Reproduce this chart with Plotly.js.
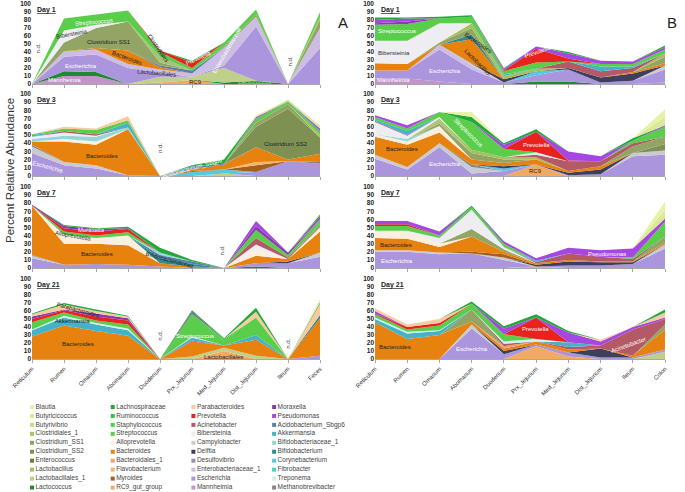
<!DOCTYPE html>
<html><head><meta charset="utf-8">
<script src="https://cdn.plot.ly/plotly-3.0.1.min.js"></script>
<style>html,body{margin:0;padding:0;background:#fff}#chart{width:685px;height:492px}</style>
</head><body><div id="chart"></div>
<script>
// ---------- categories & ticks ----------
const sitesA = ["Reticulum","Rumen","Omasum","Abomasum","Duodenum","Prx_Jejunum","Med_Jejunum","Dist_Jejunum","Ileum","Feces"];
const sitesB = ["Reticulum","Rumen","Omasum","Abomasum","Duodenum","Prx_Jejunum","Med_Jejunum","Dist_Jejunum","Ileum","Colon"];
const yTicks = [0,10,20,30,40,50,60,70,80,90,100];
const dayNames = ["Day 1","Day 1","Day 3","Day 3","Day 7","Day 7","Day 21","Day 21"];

// ---------- legend taxa (column-major order) & colours ----------
const legendTaxa = ["Blautia","Butyricicoccus","Butyrivibrio","Clostridiales_1","Clostridium_SS1","Clostridium_SS2","Enterococcus","Lactobacillus","Lactobacillales_1","Lactococcus",
 "Lachnospiraceae","Ruminococcus","Staphylococcus","Streptococcus","Alloprevotella","Bacteroides","Bacteroidales_1","Flavobacterium","Myroides","RC9_gut_group",
 "Parabacteroides","Prevotella","Acinetobacter","Bibersteinia","Campylobacter","Delftia","Desulfovibrio","Enterobacteriaceae_1","Escherichia","Mannheimia",
 "Moraxella","Pseudomonas","Acidobacterium_Sbgp6","Akkermansia","Bifidobacteriaceae_1","Bifidobacterium","Corynebacterium","Fibrobacter","Treponema","Methanobrevibacter"];
const taxaColors = ["#e8f2a6","#d8ea98","#c6dc8c","#a9c276","#93a564","#7f9152","#6a7c44","#a6c05e","#bed08a","#1f8a30",
 "#23a83a","#35c045","#46d448","#5acd4a","#fcefdf","#e8820f","#f2a070","#f9b46e","#a4601c","#f2aa62",
 "#f9c9a2","#e8231d","#b35a66","#ededf2","#cacad2","#3e3f5e","#9a90b2","#cbbde3","#ab95dc","#c493cb",
 "#8a3bb0","#a547e0","#5683aa","#45b2c8","#93d8d6","#2f8a92","#55c9e2","#43d0d6","#d2f0f0","#858585"];

// bottom-to-top stacking order
const stackOrder = ["RC9_gut_group","Mannheimia","Lactococcus","Lactobacillales_1","Escherichia","Enterobacteriaceae_1","Campylobacter","Methanobrevibacter","Corynebacterium","Delftia","Desulfovibrio","Myroides","Flavobacterium","Bacteroides","Bacteroidales_1","Alloprevotella","Bifidobacterium","Acidobacterium_Sbgp6","Bifidobacteriaceae_1","Clostridium_SS2","Clostridium_SS1","Clostridiales_1","Lactobacillus","Enterococcus","Bibersteinia","Acinetobacter","Akkermansia","Treponema","Fibrobacter","Streptococcus","Staphylococcus","Ruminococcus","Prevotella","Moraxella","Pseudomonas","Parabacteroides","Lachnospiraceae","Butyrivibrio","Butyricicoccus","Blautia"];

// ---------- panel data (percent, per site) ----------
const A_day1 = {
 RC9_gut_group:[0,0,0,0,2,5,0,0,0,0], Mannheimia:[0,10,10,0,0,0,0,0,0,0], Lactococcus:[0,6,5,0,0,0,2,4,0,0],
 Lactobacillales_1:[0,0,0,0,7,4,18,0,0,0], Escherichia:[0,18,22,20,5,0,3,68,0,45], Enterobacteriaceae_1:[0,7,6,5,4,4,22,12,0,25],
 Bacteroides:[0,0,2,17,3,0,0,0,0,0], Acidobacterium_Sbgp6:[0,0,0,0,2,4,0,0,0,0], Clostridium_SS1:[0,11,25,36,4,0,2,3,0,10],
 Clostridiales_1:[0,0,0,0,7,0,0,0,0,0], Lactobacillus:[0,0,0,0,0,0,0,0,0,4], Bibersteinia:[0,15,4,0,0,0,0,0,0,0],
 Streptococcus:[0,15,13,14,6,3,5,6,0,6], Prevotella:[0,0,0,0,2,7,0,0,0,0], Lachnospiraceae:[0,0,0,0,0,2,0,0,0,0]
};
const B_day1 = {
 Mannheimia:[7,7,3,0,0,0,0,0,0,2], Lactococcus:[0,0,0,0,0,3,3,0,0,0], Escherichia:[10,10,40,18,2,8,15,2,4,16],
 Enterobacteriaceae_1:[0,0,6,5,0,0,0,0,0,0], Campylobacter:[0,0,0,3,0,0,0,0,0,5], Corynebacterium:[0,0,0,0,0,5,0,0,0,0],
 Delftia:[0,0,0,0,4,0,2,6,9,0], Bacteroides:[9,8,0,30,0,0,0,0,2,3], Bifidobacterium:[0,0,0,6,0,0,0,0,0,0],
 Clostridium_SS1:[0,0,3,8,0,0,0,0,0,8], Lactobacillus:[0,0,0,6,4,3,0,0,0,4], Bibersteinia:[28,29,24,0,0,0,0,0,0,0],
 Acinetobacter:[0,0,0,0,0,0,8,8,5,0], Akkermansia:[0,0,0,0,2,0,0,6,2,0], Streptococcus:[20,21,6,8,4,8,0,3,3,5],
 Prevotella:[0,0,0,0,1,17,4,0,0,0], Moraxella:[2,3,0,0,0,0,0,0,0,0], Pseudomonas:[4,4,0,0,2,3,6,4,3,3],
 Lachnospiraceae:[3,1,2,2,1,0,2,0,0,2]
};
const A_day3 = {
 Escherichia:[28,13,9,1,0,0,0,5,18,15], Campylobacter:[8,4,4,0,0,0,0,0,0,0], Methanobrevibacter:[2,0,0,0,0,0,0,0,0,2],
 Myroides:[0,0,0,0,0,1,0,8,0,0], Flavobacterium:[0,0,0,0,0,0,0,4,0,0], Lactobacillales_1:[0,0,0,0,0,0,3,0,0,0],
 Bacteroides:[4,25,25,56,0,2,6,18,2,10], Alloprevotella:[0,3,4,0,0,0,0,0,0,0], Acidobacterium_Sbgp6:[0,0,0,0,0,4,1,0,0,0],
 Corynebacterium:[0,0,0,0,0,5,5,0,0,0], Bifidobacteriaceae_1:[3,4,6,2,0,0,0,0,0,0], Clostridium_SS2:[0,0,0,0,0,0,0,25,62,20],
 Clostridium_SS1:[0,0,0,0,0,0,0,5,6,0], Lactobacillus:[0,0,0,0,0,0,0,0,0,3], Bibersteinia:[3,4,1,0,0,0,0,0,0,0],
 Acinetobacter:[0,2,2,0,0,0,0,0,0,0], Akkermansia:[2,0,0,6,0,0,0,0,0,0], Streptococcus:[1,3,5,3,0,0,0,5,3,5],
 Pseudomonas:[0,0,0,0,0,0,0,2,0,3], Parabacteroides:[0,2,2,5,0,0,0,0,0,0], Lachnospiraceae:[0,0,0,0,0,1,5,0,0,0],
 Butyrivibrio:[0,0,0,0,0,0,0,0,2,0], Butyricicoccus:[0,0,0,0,0,0,0,0,0,4], Blautia:[0,0,0,0,0,0,0,2,0,0]
};
const B_day3 = {
 RC9_gut_group:[0,0,0,0,0,14,0,0,0,0], Escherichia:[21,8,35,3,6,0,1,2,24,26], Campylobacter:[5,3,5,8,0,0,0,0,4,5],
 Methanobrevibacter:[0,0,0,3,0,0,0,0,0,0], Corynebacterium:[0,0,0,0,3,0,0,0,0,0], Delftia:[0,0,0,0,3,0,3,6,0,0],
 Bacteroides:[22,27,13,6,4,6,2,4,0,0], Alloprevotella:[3,4,8,0,0,0,0,0,0,0], Bifidobacteriaceae_1:[0,3,0,0,0,0,0,0,0,0],
 Clostridium_SS2:[0,0,0,0,0,0,0,0,0,8], Clostridium_SS1:[0,0,3,8,4,0,0,0,8,9], Clostridiales_1:[0,0,4,0,0,0,0,0,0,0],
 Lactobacillus:[0,0,2,4,3,3,0,0,0,0], Bibersteinia:[15,4,2,0,0,0,0,0,0,0], Acinetobacter:[1,1,0,0,0,3,12,6,4,0],
 Akkermansia:[2,5,0,0,0,0,0,0,0,0], Treponema:[0,0,0,0,0,3,0,0,0,0], Streptococcus:[3,3,6,34,10,0,0,0,3,12],
 Prevotella:[0,0,0,0,0,25,1,0,0,0], Pseudomonas:[2,4,0,0,5,0,11,6,0,2], Lachnospiraceae:[0,0,0,6,2,3,0,0,3,0],
 Butyricicoccus:[0,0,0,0,0,0,0,0,0,10], Blautia:[0,0,0,6,0,0,0,0,0,9]
};
const A_day7 = {
 Lactococcus:[0,0,0,0,0,0,0,2,0,0], Escherichia:[12,4,5,4,2,0,0,4,6,14], Campylobacter:[3,0,0,0,0,0,0,0,0,5],
 Methanobrevibacter:[1,0,0,0,0,0,0,0,0,0], Delftia:[0,0,0,0,0,0,0,0,2,0], Bacteroides:[61,26,25,24,4,2,0,9,3,26],
 Alloprevotella:[0,10,7,12,0,0,0,8,0,5], Bifidobacterium:[0,0,0,0,6,3,0,0,0,0], Acidobacterium_Sbgp6:[0,0,0,0,4,3,0,0,0,0],
 Bifidobacteriaceae_1:[0,0,0,0,3,0,0,0,0,0], Clostridium_SS1:[0,0,0,0,0,0,0,0,0,4], Bibersteinia:[0,1,0,0,0,0,0,6,0,0],
 Acinetobacter:[0,0,0,0,0,0,0,8,2,0], Streptococcus:[0,4,3,4,0,0,0,10,3,6], Prevotella:[0,4,5,4,0,0,0,0,0,0],
 Moraxella:[1,3,3,1,0,0,0,5,3,0], Pseudomonas:[0,0,0,0,0,0,0,6,0,4], Lachnospiraceae:[0,1,1,2,6,2,0,0,0,2],
 Blautia:[0,0,0,0,0,0,0,0,0,2]
};
const B_day7 = {
 RC9_gut_group:[0,0,0,0,0,2,0,0,0,0], Escherichia:[20,20,17,18,10,0,3,3,5,24], Campylobacter:[2,2,2,0,3,0,0,0,0,5],
 Delftia:[0,0,0,0,0,2,5,4,2,0], Myroides:[0,0,0,2,4,0,0,0,0,0], Bacteroides:[15,14,7,19,3,2,2,1,1,2],
 Alloprevotella:[9,10,4,0,0,0,0,0,0,0], Clostridium_SS1:[0,0,0,9,3,0,0,0,0,8], Bibersteinia:[0,0,7,24,3,0,0,0,0,0],
 Acinetobacter:[0,0,0,0,0,1,8,6,3,0], Akkermansia:[0,0,0,0,0,2,0,0,0,0], Streptococcus:[6,6,3,3,4,0,0,0,2,18],
 Prevotella:[2,2,0,0,0,0,0,0,0,0], Pseudomonas:[4,4,5,0,3,3,7,8,11,4], Lachnospiraceae:[0,0,0,2,0,0,0,0,0,0],
 Butyricicoccus:[0,0,0,0,0,0,0,0,0,11], Blautia:[0,0,0,0,0,0,0,0,0,10]
};
const A_day21 = {
 RC9_gut_group:[0,0,0,0,0,0,10,0,0,0], Lactobacillales_1:[0,0,0,0,0,3,4,4,0,0], Escherichia:[0,0,0,0,0,0,0,0,0,4],
 Bacteroides:[28,42,35,29,0,19,3,20,0,47], Bifidobacterium:[0,0,0,0,0,0,0,0,0,4], Acinetobacter:[0,0,0,0,0,1,0,0,0,0],
 Akkermansia:[8,10,8,7,0,4,0,6,0,0], Treponema:[1,2,2,2,0,1,0,0,0,0], Streptococcus:[9,4,3,5,0,29,6,22,0,0],
 Ruminococcus:[0,0,0,0,0,0,2,0,0,0], Prevotella:[4,3,5,5,0,0,0,0,0,0], Moraxella:[3,1,4,3,0,2,0,0,0,0],
 Parabacteroides:[3,6,3,2,0,0,0,7,0,14], Lachnospiraceae:[1,2,2,1,0,2,1,5,0,2], Blautia:[0,0,0,0,0,0,0,0,0,4]
};
const B_day21 = {
 RC9_gut_group:[0,0,0,0,0,16,3,0,0,0], Lactobacillales_1:[0,0,0,0,0,0,0,0,0,9], Escherichia:[0,0,0,38,6,2,5,2,2,3],
 Campylobacter:[0,0,0,5,0,0,0,0,0,0], Delftia:[0,0,0,0,4,0,0,11,0,0], Bacteroides:[46,25,30,4,3,4,4,0,2,25],
 Bacteroidales_1:[0,0,0,0,3,0,0,0,0,0], Clostridium_SS1:[0,0,0,15,0,0,0,0,0,6], Acinetobacter:[0,0,0,0,3,0,3,4,33,7],
 Akkermansia:[4,7,5,0,0,0,6,0,0,0], Treponema:[2,2,1,0,3,3,0,0,0,0], Streptococcus:[4,3,6,7,9,0,0,0,0,0],
 Prevotella:[1,3,3,0,0,27,0,0,0,0], Pseudomonas:[3,0,0,0,7,0,12,5,3,2], Parabacteroides:[3,3,5,0,0,0,0,2,0,6],
 Lachnospiraceae:[0,0,0,3,3,4,2,0,0,4]
};

// in-area labels: [text, siteIndexPos, value, angle, colour]
const labelsA1 = [["Streptococcus",1.94,77,-5,"#fff"],["Bibersteinia",1.25,62,-10,"#333"],["Clostridium SS1",2.4,52,0,"#222"],
 ["Bacteroides",2.97,32,20,"#222"],["Escherichia",1.53,22,0,"#fff"],["Mannheimia",1.03,5,0,"#fff"],["Lactobacillales",3.9,14,5,"#222"],
 ["Clostridiales",3.94,45,55,"#222"],["RC9",5.1,3,0,"#222"],["Prevotella",5.2,32,-25,"#fff"],["Enterobacteriaceae",6.1,42,-60,"#fff"],
 ["Lactococcus",6.95,3,0,"#9fe09f"],["n.d.",0.2,45,-90,"#444"],["n.d.",8.06,28,-90,"#444"]];
const labelsB1 = [["Streptococcus",0.68,66,0,"#fff"],["Bibersteinia",0.6,39,0,"#333"],["Escherichia",2.17,16,0,"#fff"],
 ["Mannheimia",0.57,5,0,"#fff"],["Bacteroides",3.2,51,35,"#222"],["Lactobacillus",3.17,27,45,"#222"],["Prevotella",5.03,40,-20,"#fff"]];
const labelsA3 = [["Escherichia",0.5,11,15,"#fff"],["Bacteroides",2.2,24,0,"#222"],["n.d.",4.0,34,-90,"#444"],
 ["Acidobacterium_Sbgp6",5.0,10,-15,"#fff"],["Clostridium SS2",7.94,39,0,"#222"]];
const labelsB3 = [["Bacteroides",0.84,33,0,"#222"],["Escherichia",2.17,15,0,"#fff"],["Streptococcus",2.9,52,45,"#fff"],
 ["Prevotella",5.0,38,0,"#fff"],["RC9",4.97,6,0,"#222"]];
const labelsA7 = [["Moraxella",1.87,47,0,"#fff"],["Alloprevotella",1.31,40,10,"#333"],["Bacteroides",2.03,17,0,"#222"],
 ["Lactococcus",4.06,33,30,"#fff"],["Bifidobacteriaceae",4.3,10,15,"#222"],["n.d.",5.95,22,-90,"#444"]];
const labelsB7 = [["Bacteroides",0.65,29,0,"#222"],["Escherichia",0.68,9,0,"#fff"],["Pseudomonas",7.2,17,0,"#fff"]];
const labelsA21 = [["Parabacteroides",1.44,61,15,"#222"],["Akkermansia",1.28,47,0,"#222"],["Bacteroides",1.44,19,0,"#222"],
 ["n.d.",4.0,29,-90,"#444"],["Streptococcus",5.1,29,0,"#fff"],["Lactobacillales",5.97,3,0,"#222"],["n.d.",8.0,19,-90,"#444"]];
const labelsB21 = [["Bacteroides",0.62,15,0,"#222"],["Escherichia",3.01,12,0,"#fff"],["Prevotella",4.97,37,0,"#fff"],
 ["Acinetobacter",7.86,18,-20,"#fff"]];

// ---------- build ----------
const panels = [A_day1,B_day1,A_day3,B_day3,A_day7,B_day7,A_day21,B_day21];
const panelLabels = [labelsA1,labelsB1,labelsA3,labelsB3,labelsA7,labelsB7,labelsA21,labelsB21];
const W = 685, H = 492;
const colPx = [[32,320],[375,665]];
const rowPx = [[4,84],[94,176],[187,268],[279,359]];
const FONT = "Liberation Sans, Arial, sans-serif";
const colorOf = {}; legendTaxa.forEach((t,i)=>colorOf[t]=taxaColors[i]);

const traces = [];
const layout = {width:W,height:H,margin:{l:0,r:0,t:0,b:0},paper_bgcolor:"#fff",plot_bgcolor:"rgba(0,0,0,0)",
  showlegend:false,font:{family:FONT,color:"#333"},annotations:[]};

panels.forEach((pd,k)=>{
  const row = Math.floor(k/2), col = k%2;
  const xa = k===0?"x":"x"+(k+1), ya = k===0?"y":"y"+(k+1);
  const xk = k===0?"xaxis":"xaxis"+(k+1), yk = k===0?"yaxis":"yaxis"+(k+1);
  const sites = col===0?sitesA:sitesB;
  stackOrder.forEach(t=>{
    if(!pd[t]) return;
    traces.push({type:"scatter",x:sites,y:pd[t],xaxis:xa,yaxis:ya,stackgroup:"p"+k,mode:"lines",
      line:{width:0,color:colorOf[t]},fillcolor:colorOf[t],name:t,hoverinfo:"skip"});
  });
  layout[xk] = {domain:[colPx[col][0]/W,colPx[col][1]/W],anchor:ya,type:"category",range:[0,9],
    showgrid:false,zeroline:false,showline:true,linecolor:"#a8a8a8",linewidth:1,ticks:"outside",ticklen:3,tickcolor:"#a8a8a8",
    showticklabels:row===3,tickangle:-45,tickfont:{size:6,color:"#333",family:FONT},fixedrange:true};
  layout[yk] = {domain:[1-rowPx[row][1]/H,1-rowPx[row][0]/H],anchor:xa,range:[0,100],tickvals:yTicks,
    showgrid:false,zeroline:false,showline:false,ticks:"",tickfont:{size:6.5,color:"#222",family:FONT,weight:"bold"},fixedrange:true};
  layout.annotations.push({xref:xa+" domain",yref:ya+" domain",x:col===0?0.012:0.015,y:1.0,xanchor:"left",yanchor:"top",
    text:"<b><u>"+dayNames[k]+"</u></b>",showarrow:false,font:{size:7,color:"#222",family:FONT}});
  panelLabels[k].forEach(l=>{
    layout.annotations.push({xref:xa,yref:ya,x:l[1],y:l[2],text:l[0],textangle:l[3],showarrow:false,
      font:{size:6,color:l[4],family:FONT}});
  });
});

// custom compact legend (4 columns x 10 rows)
const legX = legendTaxa.map((t,i)=>32+Math.floor(i/10)*80.7);
const legY = legendTaxa.map((t,i)=>407+(i%10)*8.95);
traces.push({type:"scatter",x:legX,y:legY,xaxis:"x9",yaxis:"y9",mode:"markers+text",text:legendTaxa,
  textposition:"middle right",textfont:{size:6.5,color:"#444",family:FONT},
  marker:{symbol:"square",size:4,color:taxaColors},hoverinfo:"skip",cliponaxis:false});
layout.xaxis9 = {domain:[0,1],range:[0,W],visible:false,fixedrange:true,anchor:"y9"};
layout.yaxis9 = {domain:[0,1],range:[H,0],visible:false,fixedrange:true,anchor:"x9"};

layout.annotations.push({xref:"paper",yref:"paper",x:10/W,y:1-171/H,xanchor:"center",yanchor:"middle",
  text:"Percent Relative Abundance",textangle:-90,showarrow:false,font:{size:11.5,color:"#333",family:FONT}});
layout.annotations.push({xref:"paper",yref:"paper",x:343/W,y:1-12/H,text:"A",showarrow:false,font:{size:15,color:"#222",family:FONT}});
layout.annotations.push({xref:"paper",yref:"paper",x:679/W,y:1-12/H,text:"B",showarrow:false,font:{size:15,color:"#222",family:FONT}});

Plotly.newPlot("chart",traces,layout,{staticPlot:true,displayModeBar:false});
</script></body></html>
